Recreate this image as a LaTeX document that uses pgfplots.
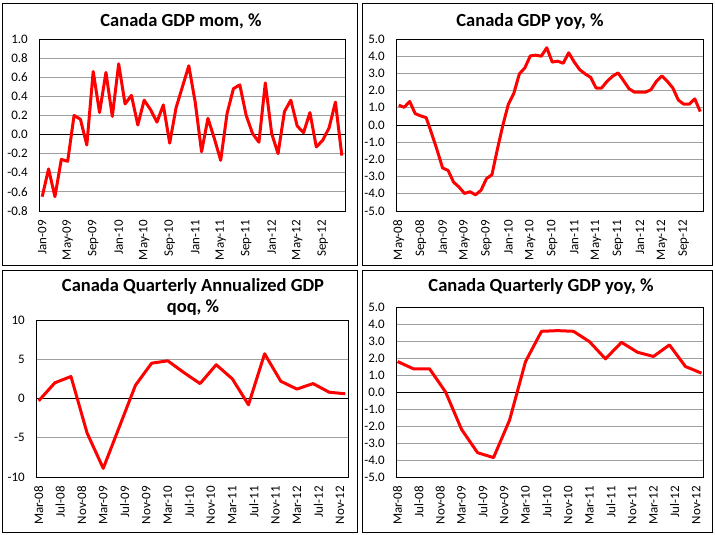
\documentclass[border=0pt]{standalone}
\usepackage{pgfplots}
\pgfplotsset{compat=1.18}
\usepackage{fontspec}
\setmainfont{Carlito}

\definecolor{gridgray}{RGB}{160,160,160}
\definecolor{gdpred}{RGB}{255,0,0}

\pgfplotsset{gdp/.style={
    scale only axis, anchor=south west,
    axis line style={line width=0.8pt},
    ymajorgrids, grid style={gridgray, line width=0.8pt},
    major tick length=0pt, tick style={draw=none},
    ticklabel style={font=\fontsize{13}{15}\selectfont, inner sep=0pt},
    /pgf/number format/assume math mode=true,
    xticklabel style={rotate=90, anchor=east},
    xticklabel shift=9pt, yticklabel shift=11pt,
    extra y ticks={0}, extra y tick labels={},
    extra y tick style={grid style={black, line width=0.8pt}},
    cycle list={{gdpred, mark=none}},
    every axis plot/.append style={line width=3pt, line join=round},
  }}

\newcommand{\ttl}{\fontsize{18.5}{22}\selectfont\bfseries}

\begin{document}
\begin{tikzpicture}
\useasboundingbox (0,0) rectangle (715pt,535pt);

% panel frames
\draw[line width=0.8pt] (2.5pt,532pt) rectangle (357pt,270pt);
\draw[line width=0.8pt] (362pt,532pt) rectangle (712pt,270pt);
\draw[line width=0.8pt] (2.5pt,265pt) rectangle (357pt,3pt);
\draw[line width=0.8pt] (362pt,265pt) rectangle (712pt,3pt);

% titles
\node[font=\ttl, anchor=base] at (181pt,508pt) {Canada GDP mom, \%};
\node[font=\ttl, anchor=base] at (530pt,508pt) {Canada GDP yoy, \%};
\node[font=\ttl, anchor=base] at (193pt,243pt) {Canada Quarterly Annualized GDP};
\node[font=\ttl, anchor=base] at (193pt,222pt) {qoq, \%};
\node[font=\ttl, anchor=base] at (541pt,243pt) {Canada Quarterly GDP yoy, \%};

% monthly m/m
\begin{axis}[gdp, at={(39pt,324pt)}, width=306pt, height=172pt,
    xmin=-0.5, xmax=47.5, ymin=-0.8, ymax=1.0,
    ytick={-0.8,-0.6,...,1.0},
    yticklabel style={/pgf/number format/.cd, fixed, fixed zerofill, precision=1},
    xtick={0,4,...,44},
    xticklabels={Jan-09,May-09,Sep-09,Jan-10,May-10,Sep-10,Jan-11,May-11,Sep-11,Jan-12,May-12,Sep-12}]
\addplot coordinates {
(0,-0.65) (1,-0.36) (2,-0.65) (3,-0.26) (4,-0.28) (5,0.20) (6,0.16) (7,-0.11)
(8,0.66) (9,0.23) (10,0.65) (11,0.19) (12,0.74) (13,0.32) (14,0.41) (15,0.10)
(16,0.36) (17,0.26) (18,0.13) (19,0.31) (20,-0.09) (21,0.28) (22,0.50) (23,0.72)
(24,0.34) (25,-0.18) (26,0.17) (27,-0.04) (28,-0.27) (29,0.22) (30,0.48) (31,0.52)
(32,0.20) (33,0.01) (34,-0.08) (35,0.54) (36,0.01) (37,-0.20) (38,0.24) (39,0.36)
(40,0.09) (41,0.02) (42,0.23) (43,-0.13) (44,-0.06) (45,0.07) (46,0.34) (47,-0.22)
};
\end{axis}

% monthly y/y
\begin{axis}[gdp, at={(396pt,324pt)}, width=307pt, height=172pt,
    xmin=-0.5, xmax=55.5, ymin=-5, ymax=5,
    ytick={-5,-4,...,5},
    yticklabel style={/pgf/number format/.cd, fixed, fixed zerofill, precision=1},
    xtick={0,4,...,52},
    xticklabels={May-08,Sep-08,Jan-09,May-09,Sep-09,Jan-10,May-10,Sep-10,Jan-11,May-11,Sep-11,Jan-12,May-12,Sep-12}]
\addplot coordinates {
(0,1.15) (1,1.03) (2,1.37) (3,0.66) (4,0.53) (5,0.43) (6,-0.49) (7,-1.46)
(8,-2.50) (9,-2.64) (10,-3.32) (11,-3.61) (12,-3.98) (13,-3.88) (14,-4.06) (15,-3.80)
(16,-3.12) (17,-2.89) (18,-1.40) (19,0.00) (20,1.21) (21,1.85) (22,2.97) (23,3.32)
(24,4.02) (25,4.06) (26,4.00) (27,4.49) (28,3.66) (29,3.71) (30,3.59) (31,4.20)
(32,3.67) (33,3.22) (34,2.97) (35,2.77) (36,2.15) (37,2.15) (38,2.54) (39,2.83)
(40,3.03) (41,2.58) (42,2.11) (43,1.91) (44,1.91) (45,1.91) (46,2.05) (47,2.54)
(48,2.85) (49,2.54) (50,2.15) (51,1.45) (52,1.21) (53,1.21) (54,1.52) (55,0.78)
};
\end{axis}

% quarterly annualized q/q
\begin{axis}[gdp, at={(36pt,58pt)}, width=312pt, height=157pt,
    xmin=-0.5, xmax=57.5, ymin=-10, ymax=10,
    ytick={-10,-5,0,5,10},
    xtick={0,4,...,56},
    xticklabels={Mar-08,Jul-08,Nov-08,Mar-09,Jul-09,Nov-09,Mar-10,Jul-10,Nov-10,Mar-11,Jul-11,Nov-11,Mar-12,Jul-12,Nov-12}]
\addplot coordinates {
(0,-0.3) (3,2.0) (6,2.8) (9,-4.4) (12,-8.9) (15,-3.6) (18,1.7) (21,4.5) (24,4.8) (27,3.3)
(30,1.9) (33,4.3) (36,2.5) (39,-0.8) (42,5.7) (45,2.2) (48,1.2) (51,1.9) (54,0.8) (57,0.6)
};
\end{axis}

% quarterly y/y
\begin{axis}[gdp, at={(396pt,58pt)}, width=307pt, height=170pt,
    xmin=-0.3, xmax=57.3, ymin=-5, ymax=5,
    ytick={-5,-4,...,5},
    yticklabel style={/pgf/number format/.cd, fixed, fixed zerofill, precision=1},
    xtick={0,4,...,56},
    xticklabels={Mar-08,Jul-08,Nov-08,Mar-09,Jul-09,Nov-09,Mar-10,Jul-10,Nov-10,Mar-11,Jul-11,Nov-11,Mar-12,Jul-12,Nov-12}]
\addplot coordinates {
(0,1.79) (3,1.36) (6,1.36) (9,0.0) (12,-2.2) (15,-3.57) (18,-3.86) (21,-1.66) (24,1.79) (27,3.57)
(30,3.61) (33,3.57) (36,2.96) (39,1.95) (42,2.92) (45,2.34) (48,2.09) (51,2.77) (54,1.5) (57,1.11)
};
\end{axis}
\end{tikzpicture}
\end{document}
